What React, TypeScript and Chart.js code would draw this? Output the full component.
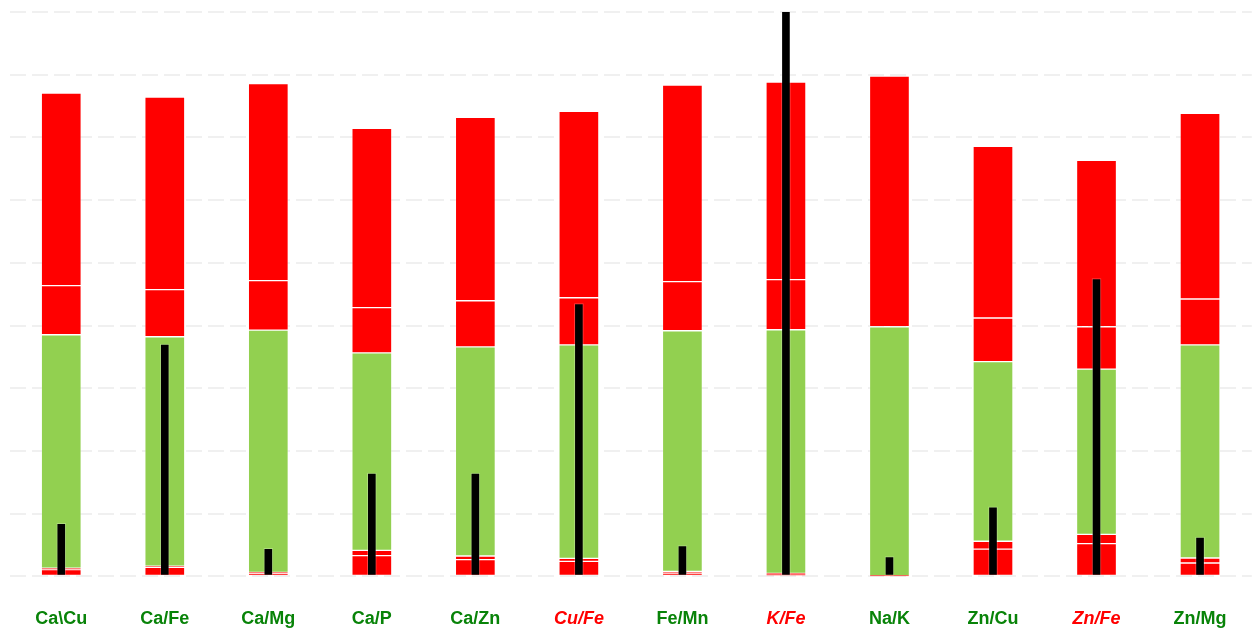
import React, { useEffect, useRef } from "react";
import { Chart, registerables } from "chart.js";

Chart.register(...registerables);

// Categories (ratios) and label emphasis
const categories = ["Ca\\Cu", "Ca/Fe", "Ca/Mg", "Ca/P", "Ca/Zn", "Cu/Fe", "Fe/Mn", "K/Fe", "Na/K", "Zn/Cu", "Zn/Fe", "Zn/Mg"];
const flagged = [false, false, false, false, false, true, false, true, false, false, true, false];

// Range boundaries (cumulative values)
const lowCritical = [1.07, 1.44, 0.48, 3.31, 2.67, 2.4, 0.53, 0.32, 0.05, 4.36, 5.23, 2.13];
const lowLimit = [1.33, 1.65, 0.64, 4.16, 3.25, 2.88, 0.8, 0.48, 0.08, 5.6, 6.71, 2.93];
const highLimit = [38.53, 38.21, 39.28, 35.65, 36.61, 36.93, 39.17, 39.33, 39.81, 34.26, 33.05, 36.93];
const highCritical = [46.36, 45.72, 47.16, 42.85, 43.96, 44.44, 47.0, 47.32, 79.78, 41.2, 39.81, 44.24];
const rangeMax = [77.06, 76.42, 78.58, 71.46, 73.22, 74.18, 78.34, 78.82, 79.78, 68.59, 66.35, 73.86];

// Measured values
const measured = [8.47, 37.04, 4.48, 16.47, 16.47, 43.49, 4.91, 95, 3.15, 11.08, 47.48, 6.28];

const yMax = 90;
const yStep = 10;

const RED = "#ff0000";
const GREEN = "#92d050";
const LABEL_GREEN = "#088308";

function span(a: number[], b: number[]) {
  return a.map((v, i) => [v, b[i]] as [number, number]);
}

export default function App() {
  const ref = useRef<HTMLCanvasElement | null>(null);

  useEffect(() => {
    if (!ref.current) return;
    const zeros = categories.map(() => 0);
    const segStyle = {
      grouped: false,
      barPercentage: 1,
      categoryPercentage: 1,
      maxBarThickness: 40,
      borderWidth: 1,
      borderColor: "rgba(255,255,255,0.2)",
      borderSkipped: false,
    };
    const chart = new Chart(ref.current, {
      type: "bar",
      data: {
        labels: categories,
        datasets: [
          {
            label: "Measured",
            data: span(zeros, measured),
            backgroundColor: "#000000",
            grouped: false,
            barPercentage: 1,
            categoryPercentage: 1,
            maxBarThickness: 9,
            borderWidth: 1,
            borderColor: "rgba(255,255,255,0.25)",
            borderSkipped: false,
          } as any,
          { label: "Low critical", data: span(zeros, lowCritical), backgroundColor: RED, ...segStyle } as any,
          { label: "Low", data: span(lowCritical, lowLimit), backgroundColor: RED, ...segStyle } as any,
          { label: "Normal", data: span(lowLimit, highLimit), backgroundColor: GREEN, ...segStyle } as any,
          { label: "High", data: span(highLimit, highCritical), backgroundColor: RED, ...segStyle } as any,
          { label: "High critical", data: span(highCritical, rangeMax), backgroundColor: RED, ...segStyle } as any,
        ],
      },
      options: {
        responsive: false,
        animation: false,
        layout: { padding: { left: 9.5, right: 3.2, top: 12, bottom: -2 } },
        plugins: {
          legend: { display: false },
          tooltip: { enabled: false },
        },
        scales: {
          x: {
            grid: { display: false, drawTicks: true, tickLength: 32 },
            border: { display: false },
            ticks: {
              autoSkip: false,
              maxRotation: 0,
              padding: 0,
              color: (ctx: any) => (flagged[ctx.index] ? RED : LABEL_GREEN),
              font: (ctx: any) => ({
                family: "'Liberation Sans', Arial, sans-serif",
                size: 18,
                weight: "bold",
                style: flagged[ctx.index] ? "italic" : "normal",
              }),
            },
          },
          y: {
            min: 0,
            max: yMax,
            ticks: { display: false, stepSize: yStep },
            grid: { color: "#f0f0f0", lineWidth: 2, drawTicks: false },
            border: { display: false, dash: [16, 6] },
          },
        },
      } as any,
    });
    return () => chart.destroy();
  }, []);

  return (
    <div style={{ position: "fixed", left: 0, top: 0, width: 1255, height: 628, background: "#ffffff" }}>
      <canvas ref={ref} width={1255} height={628} style={{ display: "block" }} />
    </div>
  );
}
